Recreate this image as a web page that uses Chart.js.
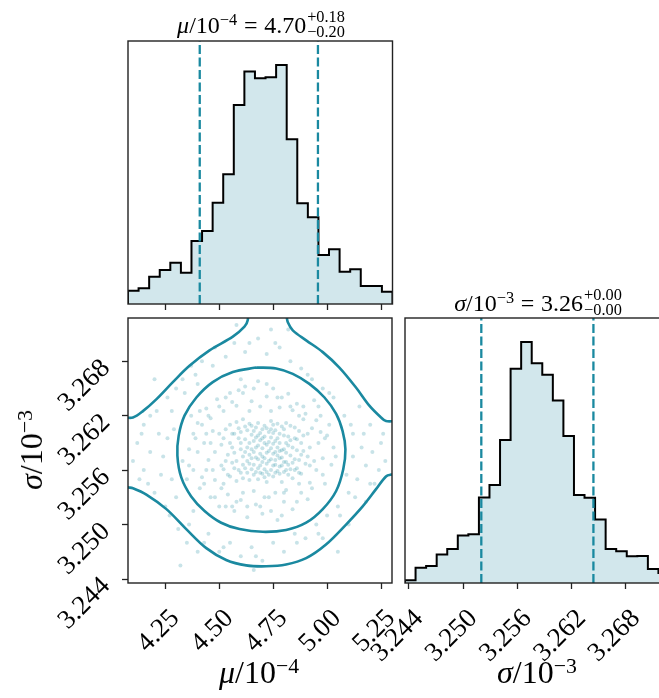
<!DOCTYPE html>
<html>
<head>
<meta charset="utf-8">
<script src="https://cdn.jsdelivr.net/npm/chart.js@4/dist/chart.umd.min.js"></script>
<style>
  html, body { margin: 0; padding: 0; background: #fff; overflow: hidden; }
  #page { position: relative; width: 659px; height: 698px; overflow: hidden; }
  canvas { position: absolute; left: 0; top: 0; }
  .tex { position: absolute; font-family: "Liberation Serif", serif; color: #000; white-space: nowrap; line-height: 1; }
  .tex sup { font-size: 0.68em; vertical-align: 0.45em; line-height: 0; }
  .tex .eq { padding: 0 0.28em; }
  .ss { display: inline-block; font-size: 0.68em; line-height: 0.95; vertical-align: -0.3em; margin-left: 1px; }
  .ss span { display: block; }
</style>
</head>
<body>
<div id="page">
  <canvas id="muHist" width="700" height="698"></canvas>
  <canvas id="joint" width="700" height="698"></canvas>
  <canvas id="sigmaHist" width="700" height="698"></canvas>

  <div class="tex" style="left:261px; top:9px; font-size:24px; transform:translateX(-50%)"><i>μ</i>/10<sup>−4</sup><span class="eq">=</span>4.70<span class="ss"><span>+0.18</span><span>−0.20</span></span></div>
  <div class="tex" style="left:538px; top:287px; font-size:24px; transform:translateX(-50%)"><i>σ</i>/10<sup>−3</sup><span class="eq">=</span>3.26<span class="ss"><span>+0.00</span><span>−0.00</span></span></div>
  <div class="tex" style="left:259px; top:656px; font-size:32px; transform:translateX(-50%)"><i>μ</i>/10<sup>−4</sup></div>
  <div class="tex" style="left:537px; top:656px; font-size:32px; transform:translateX(-50%)"><i>σ</i>/10<sup>−3</sup></div>
  <div class="tex" style="left:31px; top:450px; font-size:32px; transform:translate(-50%,-50%) rotate(-90deg)"><i>σ</i>/10<sup>−3</sup></div>
</div>

<script>
// marginal histograms, 25 bins each
const muCounts = [40, 47, 82, 102, 124, 94, 189, 219, 304, 389, 597, 697, 677, 680, 717, 494, 302, 260, 147, 164, 97, 104, 54, 54, 37];
const sigmaCounts = [8, 46, 51, 85, 102, 142, 146, 256, 293, 428, 641, 721, 658, 623, 546, 440, 263, 255, 190, 102, 95, 80, 81, 42, 30];
const muRange = [4.077, 5.301];
const sigmaRange = [3.24356, 3.27276];
const muQuantiles = [4.409, 4.956];
const sigmaQuantiles = [3.2520, 3.2644];
const muTicks = [4.25, 4.50, 4.75, 5.00, 5.25];
const sigmaTicks = [3.244, 3.250, 3.256, 3.262, 3.268];

// density contours [mu, sigma]
const innerContour = [[4.671,3.2673],[4.764,3.2672],[4.841,3.2666],[4.918,3.2655],[4.988,3.2640],[5.042,3.2622],[5.072,3.2603],[5.085,3.2583],[5.075,3.2561],[5.042,3.2537],[4.980,3.2517],[4.903,3.2502],[4.810,3.2494],[4.702,3.2492],[4.594,3.2495],[4.509,3.2502],[4.432,3.2515],[4.370,3.2531],[4.324,3.2552],[4.306,3.2576],[4.312,3.2598],[4.339,3.2620],[4.394,3.2640],[4.470,3.2657],[4.563,3.2668],[4.671,3.2673]];
const outerLower = [[4.060,3.2542],[4.077,3.2541],[4.100,3.2540],[4.162,3.2533],[4.255,3.2517],[4.347,3.2495],[4.440,3.2474],[4.532,3.2461],[4.625,3.2455],[4.718,3.2454],[4.810,3.2456],[4.903,3.2463],[4.995,3.2478],[5.088,3.2500],[5.165,3.2520],[5.227,3.2539],[5.273,3.2553],[5.296,3.2555],[5.320,3.2555]];
const outerUpperLeft = [[4.060,3.2618],[4.100,3.2618],[4.146,3.2625],[4.208,3.2638],[4.285,3.2657],[4.362,3.2675],[4.455,3.2692],[4.563,3.2707],[4.617,3.2718],[4.632,3.2725],[4.634,3.2740]];
const outerUpperRight = [[4.812,3.2740],[4.813,3.2729],[4.818,3.2723],[4.841,3.2714],[4.903,3.2703],[4.980,3.2690],[5.057,3.2673],[5.134,3.2651],[5.196,3.2631],[5.250,3.2618],[5.273,3.2614],[5.320,3.2614]];

// posterior samples [mu, sigma]
const samples = [
  [4.52,3.2561],[4.55,3.2590],[4.58,3.2548],[4.60,3.2602],[4.61,3.2575],[4.63,3.2557],[4.64,3.2611],[4.65,3.2583],[4.66,3.2566],[4.67,3.2596],
  [4.68,3.2550],[4.69,3.2578],[4.70,3.2605],[4.71,3.2561],[4.72,3.2588],[4.73,3.2570],[4.74,3.2614],[4.75,3.2553],[4.76,3.2592],[4.77,3.2576],
  [4.78,3.2600],[4.79,3.2547],[4.80,3.2583],[4.82,3.2566],[4.83,3.2609],[4.85,3.2572],[4.86,3.2594],[4.88,3.2556],[4.89,3.2581],[4.53,3.2605],
  [4.56,3.2568],[4.57,3.2579],[4.59,3.2560],[4.62,3.2594],[4.64,3.2549],[4.66,3.2603],[4.68,3.2587],[4.70,3.2569],[4.71,3.2597],[4.73,3.2555],
  [4.74,3.2584],[4.76,3.2566],[4.78,3.2573],[4.79,3.2608],[4.81,3.2590],[4.84,3.2551],[4.87,3.2603],[4.90,3.2567],[4.54,3.2577],[4.58,3.2613],
  [4.60,3.2583],[4.63,3.2570],[4.65,3.2599],[4.67,3.2558],[4.69,3.2593],[4.72,3.2547],[4.72,3.2606],[4.75,3.2578],[4.77,3.2559],[4.80,3.2569],
  [4.81,3.2612],[4.84,3.2585],[4.86,3.2562],[4.51,3.2588],[4.55,3.2553],[4.61,3.2616],[4.62,3.2562],[4.66,3.2580],[4.68,3.2612],[4.70,3.2584],
  [4.71,3.2552],[4.74,3.2596],[4.76,3.2604],[4.77,3.2585],[4.79,3.2565],[4.82,3.2597],[4.83,3.2576],[4.85,3.2607],[4.88,3.2590],[4.59,3.2595],
  [4.63,3.2604],[4.65,3.2561],[4.67,3.2607],[4.69,3.2565],[4.73,3.2591],[4.75,3.2565],[4.78,3.2556],[4.80,3.2598],[4.57,3.2600],[4.60,3.2557],
  [4.64,3.2590],[4.66,3.2555],[4.70,3.2575],[4.72,3.2579],[4.74,3.2572],[4.76,3.2580],[4.78,3.2590],[4.81,3.2579],[4.87,3.2571],[4.53,3.2570],
  [4.68,3.2572],[4.71,3.2609],[4.75,3.2601],[4.82,3.2555],
  [4.56,3.2585],[4.58,3.2570],[4.59,3.2606],[4.61,3.2551],[4.62,3.2580],[4.64,3.2567],[4.65,3.2609],[4.67,3.2585],[4.68,3.2562],[4.69,3.2601],
  [4.70,3.2556],[4.71,3.2590],[4.72,3.2567],[4.73,3.2602],[4.74,3.2560],[4.75,3.2589],[4.76,3.2571],[4.77,3.2611],[4.78,3.2564],[4.79,3.2582],
  [4.80,3.2605],[4.81,3.2560],[4.83,3.2593],[4.84,3.2568],[4.86,3.2582],[4.87,3.2557],[4.89,3.2598],[4.91,3.2575],[4.55,3.2610],[4.57,3.2562],
  [4.60,3.2590],[4.62,3.2608],[4.63,3.2585],[4.65,3.2573],[4.66,3.2592],[4.67,3.2574],[4.69,3.2557],[4.70,3.2595],[4.71,3.2573],[4.73,3.2581],
  [4.74,3.2605],[4.76,3.2557],[4.77,3.2595],[4.79,3.2574],[4.80,3.2558],[4.82,3.2587],[4.83,3.2561],[4.85,3.2595],[4.88,3.2577],[4.52,3.2595],
  [4.54,3.2555],[4.56,3.2600],[4.61,3.2566],[4.64,3.2577],[4.68,3.2598],[4.72,3.2558],[4.75,3.2610],[4.78,3.2581],[4.81,3.2569],[4.85,3.2560],
  [4.36,3.2583],[4.38,3.2560],[4.40,3.2612],[4.41,3.2540],[4.43,3.2590],[4.44,3.2628],[4.45,3.2571],[4.46,3.2530],[4.47,3.2603],[4.48,3.2549],
  [4.49,3.2638],[4.50,3.2520],[4.52,3.2625],[4.54,3.2533],[4.55,3.2645],[4.57,3.2515],[4.58,3.2631],[4.60,3.2527],[4.62,3.2652],[4.63,3.2508],
  [4.65,3.2636],[4.67,3.2522],[4.68,3.2658],[4.70,3.2512],[4.72,3.2641],[4.73,3.2530],[4.75,3.2650],[4.77,3.2505],[4.78,3.2629],[4.80,3.2525],
  [4.82,3.2644],[4.84,3.2517],[4.86,3.2633],[4.88,3.2535],[4.90,3.2622],[4.92,3.2546],[4.93,3.2606],[4.95,3.2560],[4.96,3.2590],[4.98,3.2573],
  [5.00,3.2598],[5.02,3.2566],[4.97,3.2620],[4.99,3.2545],[4.94,3.2637],[4.91,3.2528],[4.39,3.2595],[4.42,3.2552],[4.37,3.2620],[4.44,3.2600],
  [4.46,3.2617],[4.48,3.2580],[4.50,3.2600],[4.47,3.2560],[4.51,3.2540],[4.53,3.2640],[4.56,3.2520],[4.59,3.2648],[4.61,3.2535],[4.64,3.2625],
  [4.66,3.2537],[4.69,3.2630],[4.71,3.2530],[4.74,3.2625],[4.76,3.2535],[4.79,3.2640],[4.81,3.2538],[4.84,3.2626],[4.87,3.2545],[4.89,3.2616],
  [4.92,3.2585],[4.94,3.2570],[4.97,3.2602],[5.03,3.2585],[4.33,3.2570],[4.35,3.2550],[4.41,3.2625],[4.60,3.2660],[4.79,3.2510],[4.91,3.2600],
  [4.40,3.2580],[4.42,3.2610],[4.43,3.2545],[4.45,3.2620],[4.46,3.2590],[4.48,3.2530],[4.50,3.2630],[4.51,3.2565],[4.53,3.2520],[4.56,3.2635],
  [4.58,3.2525],[4.61,3.2645],[4.63,3.2520],[4.66,3.2650],[4.69,3.2520],[4.72,3.2655],[4.74,3.2515],[4.77,3.2640],[4.80,3.2535],[4.83,3.2630],
  [4.86,3.2525],[4.89,3.2630],[4.92,3.2565],[4.95,3.2615],[4.98,3.2555],[5.01,3.2610],[5.04,3.2575],[4.38,3.2600],[4.36,3.2565],[4.93,3.2540],
  [4.96,3.2630],[4.44,3.2560],[4.99,3.2595],[4.52,3.2545],[4.87,3.2620],
  [4.12,3.2590],[4.15,3.2560],[4.18,3.2620],[4.20,3.2535],[4.22,3.2600],[4.24,3.2575],[4.26,3.2640],[4.27,3.2510],[4.29,3.2605],[4.30,3.2650],
  [4.31,3.2495],[4.33,3.2660],[4.35,3.2480],[4.37,3.2675],[4.40,3.2470],[4.42,3.2680],[4.45,3.2490],[4.48,3.2695],[4.50,3.2470],[4.53,3.2685],
  [4.55,3.2480],[4.57,3.2700],[4.60,3.2465],[4.62,3.2690],[4.65,3.2475],[4.68,3.2705],[4.70,3.2460],[4.72,3.2688],[4.75,3.2480],[4.78,3.2695],
  [4.80,3.2470],[4.83,3.2680],[4.85,3.2490],[4.88,3.2672],[4.90,3.2485],[4.93,3.2660],[4.95,3.2500],[4.98,3.2650],[5.00,3.2510],[5.03,3.2640],
  [5.05,3.2520],[5.08,3.2620],[5.10,3.2535],[5.12,3.2600],[5.14,3.2550],[5.16,3.2585],[5.18,3.2565],[5.20,3.2610],[5.22,3.2545],[5.25,3.2590],
  [5.27,3.2570],[4.20,3.2660],[4.25,3.2520],[5.15,3.2630],[5.10,3.2500],[4.32,3.2455],[5.05,3.2470],[4.58,3.2720],[4.82,3.2715],[4.15,3.2610],
  [4.40,3.2655],[5.20,3.2545],[4.38,3.2515],[5.09,3.2555],[4.28,3.2550],[5.12,3.2575],[4.18,3.2580],[4.66,3.2450],[4.74,3.2715],[4.98,3.2485],
  [4.10,3.2570],[4.14,3.2600],[4.17,3.2545],[4.21,3.2625],[4.23,3.2555],[4.26,3.2595],[4.28,3.2625],[4.30,3.2530],[4.34,3.2645],[4.36,3.2500],
  [4.39,3.2665],[4.43,3.2480],[4.47,3.2675],[4.52,3.2475],[4.64,3.2700],[4.67,3.2465],[4.76,3.2700],[4.86,3.2480],[4.91,3.2665],[4.96,3.2490],
  [5.01,3.2645],[5.06,3.2510],[5.11,3.2610],[5.13,3.2530],[5.17,3.2600],[5.21,3.2580],[5.24,3.2560],[5.26,3.2600],[4.13,3.2550],[5.18,3.2525]
];

const TEAL = '#1a89a0';
const HIST_FILL = '#d2e7ec';
const TICK_FONT = { family: 'Liberation Serif', size: 27 };
const W = 700, H = 698;
const X_AXIS_SPACE = 100, Y_AXIS_SPACE = 120;

// box around each panel
const frame = {
  id: 'frame',
  afterDatasetsDraw(chart) {
    const { ctx, chartArea: a } = chart;
    ctx.save();
    ctx.strokeStyle = '#222';
    ctx.lineWidth = 1.4;
    ctx.strokeRect(a.left, a.top, a.right - a.left, a.bottom - a.top);
    ctx.restore();
  }
};

function tickAxis(range, ticks, decimals, showLabels, horizontal) {
  return {
    type: 'linear',
    min: range[0],
    max: range[1],
    afterBuildTicks: s => { s.ticks = ticks.map(v => ({ value: v })); },
    afterFit: s => {
      if (horizontal) s.height = showLabels ? X_AXIS_SPACE : 0;
      else s.width = Y_AXIS_SPACE;
    },
    grid: { drawOnChartArea: false, tickLength: 6, tickWidth: 1.3, color: '#222' },
    border: { display: false },
    ticks: {
      display: showLabels,
      autoSkip: false,
      minRotation: 45,
      maxRotation: 45,
      font: TICK_FONT,
      color: '#000',
      padding: horizontal ? 14 : 16,
      labelOffset: horizontal ? 10 : 3,
      callback: v => v.toFixed(decimals)
    }
  };
}

function stepOutline(counts, range) {
  const w = (range[1] - range[0]) / counts.length;
  const pts = [{ x: range[0], y: 0 }];
  counts.forEach((c, i) => pts.push({ x: range[0] + i * w, y: c }));
  pts.push({ x: range[1], y: 0 });
  return pts;
}

function histChart(id, counts, range, quantiles, ticks, decimals, showLabels, box) {
  const top = Math.max(...counts) * 1.1;
  const dashed = quantiles.map(q => ({
    data: [{ x: q, y: 0 }, { x: q, y: top }],
    borderColor: TEAL,
    borderWidth: 2.3,
    borderDash: [9, 3.5],
    pointRadius: 0,
    order: 0
  }));
  const bottomPad = H - box[3] - (showLabels ? X_AXIS_SPACE : 0);
  return new Chart(document.getElementById(id), {
    type: 'line',
    data: {
      datasets: [{
        data: stepOutline(counts, range),
        stepped: 'before',
        borderColor: '#000',
        borderWidth: 2,
        backgroundColor: HIST_FILL,
        fill: 'origin',
        pointRadius: 0,
        order: 1
      }, ...dashed]
    },
    options: {
      responsive: false,
      animation: false,
      devicePixelRatio: 1,
      layout: { padding: { left: box[0], top: box[1], right: W - box[2], bottom: bottomPad } },
      plugins: { legend: { display: false }, tooltip: { enabled: false } },
      scales: {
        x: tickAxis(range, ticks, decimals, showLabels, true),
        y: { display: false, min: 0, max: top }
      }
    },
    plugins: [frame]
  });
}

histChart('muHist', muCounts, muRange, muQuantiles, muTicks, 2, false, [128, 41, 392.5, 304]);
histChart('sigmaHist', sigmaCounts, sigmaRange, sigmaQuantiles, sigmaTicks, 3, true, [405, 318, 669, 583]);

const contour = pts => ({
  data: pts.map(p => ({ x: p[0], y: p[1] })),
  showLine: true,
  borderColor: TEAL,
  borderWidth: 2.6,
  tension: 0.35,
  pointRadius: 0,
  fill: false,
  order: 1
});

new Chart(document.getElementById('joint'), {
  type: 'scatter',
  data: {
    datasets: [
      {
        data: samples.map(p => ({ x: p[0], y: p[1] })),
        pointRadius: 2,
        borderWidth: 0,
        backgroundColor: 'rgba(26,137,160,0.24)',
        order: 2
      },
      contour(innerContour),
      contour(outerLower),
      contour(outerUpperLeft),
      contour(outerUpperRight)
    ]
  },
  options: {
    responsive: false,
    animation: false,
    devicePixelRatio: 1,
    layout: { padding: { left: 128 - Y_AXIS_SPACE, top: 318, right: W - 392, bottom: H - 583 - X_AXIS_SPACE } },
    plugins: { legend: { display: false }, tooltip: { enabled: false } },
    scales: {
      x: tickAxis(muRange, muTicks, 2, true, true),
      y: tickAxis(sigmaRange, sigmaTicks, 3, true, false)
    }
  },
  plugins: [frame]
});
</script>
</body>
</html>
